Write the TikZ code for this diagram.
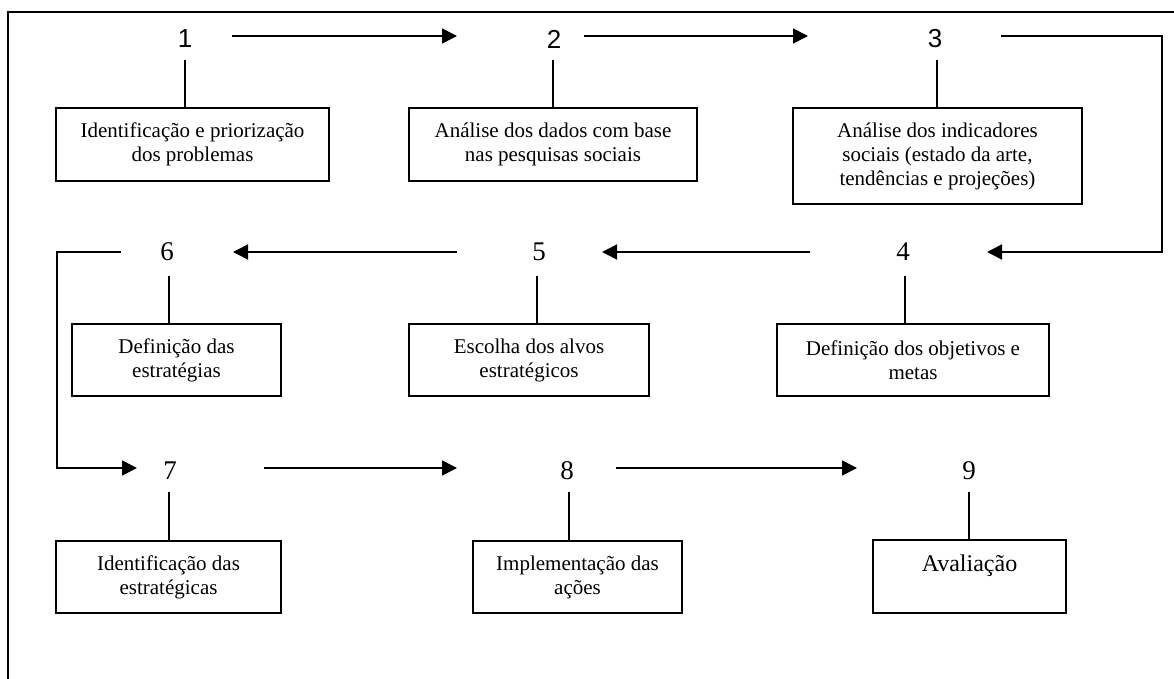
\documentclass[tikz,border=0pt]{standalone}
\usepackage{fontspec}
\setmainfont{Liberation Serif}
\newfontfamily\arialf{Liberation Sans}
\usetikzlibrary{arrows.meta}
\tikzset{
  ln/.style={line width=1.6pt, black},
  arr/.style={ln, -{Triangle[length=15pt,width=15pt]}},
  numsans/.style={inner sep=0pt, font=\arialf\fontsize{26}{30}\selectfont},
  numser/.style={inner sep=0pt, font=\fontsize{27}{31}\selectfont},
  box/.style={draw, line width=1.6pt, inner sep=0pt, align=center,
    font=\fontsize{21}{24}\selectfont, minimum height=73pt},
}
\begin{document}
\begin{tikzpicture}[x=1pt,y=-1pt]
\useasboundingbox (0,0) rectangle (1174,679);
% frame
\draw[ln] (1174,12) -- (8,12) -- (8,679);
% numbers
\node[numsans] (n1) at (185,39) {1};
\node[numsans] (n2) at (554,39) {2};
\node[numsans] (n3) at (935,39) {3};
\node[numser] (n4) at (903,252) {4};
\node[numser] (n5) at (539,252) {5};
\node[numser] (n6) at (167,252) {6};
\node[numser] (n7) at (170,471) {7};
\node[numser] (n8) at (567,471) {8};
\node[numser] (n9) at (969,471) {9};
% boxes
\node[box, minimum width=273pt] (b1) at (192.5,144.5) {Identificação e priorização\\dos problemas};
\node[box, minimum width=288pt] (b2) at (553,144.5) {Análise dos dados com base\\nas pesquisas sociais};
\node[box, minimum width=289pt, minimum height=96pt] (b3) at (937.5,156) {Análise dos indicadores\\sociais (estado da arte,\\tendências e projeções)};
\node[box, minimum width=272pt, minimum height=72pt] (b4) at (913,360) {Definição dos objetivos e\\metas};
\node[box, minimum width=240pt, minimum height=72pt] (b5) at (529,360) {Escolha dos alvos\\estratégicos};
\node[box, minimum width=209pt, minimum height=72pt] (b6) at (176.5,360) {Definição das\\estratégias};
\node[box, minimum width=225pt, minimum height=72pt] (b7) at (168.5,577) {Identificação das\\estratégicas};
\node[box, minimum width=209pt, minimum height=72pt] (b8) at (577.5,577) {Implementação das\\ações};
\node[box, minimum width=193pt, font=\fontsize{24}{27}\selectfont] (b9) at (969.5,576.5) {Avaliação\\\mbox{}};
% stems
\draw[ln] (185,60) -- (185,60 |- b1.north);
\draw[ln] (553,60) -- (553,60 |- b2.north);
\draw[ln] (937,60) -- (937,60 |- b3.north);
\draw[ln] (905,276) -- (905,276 |- b4.north);
\draw[ln] (537,276) -- (537,276 |- b5.north);
\draw[ln] (169,276) -- (169,276 |- b6.north);
\draw[ln] (169,492) -- (169,492 |- b7.north);
\draw[ln] (569,492) -- (569,492 |- b8.north);
\draw[ln] (969,492) -- (969,492 |- b9.north);
% arrows row 1
\draw[arr] ([yshift=3pt]n1.center) ++(47,0) -- ([yshift=3pt,xshift=-97pt]n2.center);
\draw[arr] ([yshift=3pt]n2.center) ++(30,0) -- ([yshift=3pt,xshift=-127pt]n3.center);
\draw[arr] ([yshift=3pt]n3.center) ++(66,0) -- (1162,36) |- ([xshift=84pt]n4.center);
% row 2
\draw[arr] ([xshift=-93pt]n4.center) -- ([xshift=63pt]n5.center);
\draw[arr] ([xshift=-82pt]n5.center) -- ([xshift=66pt]n6.center);
\draw[arr] ([xshift=-46pt]n6.center) -- (57,252) |- ([xshift=-33pt,yshift=3pt]n7.center);
% row 3
\draw[arr] ([yshift=3pt]n7.center) ++(94,0) -- ([yshift=3pt,xshift=-110pt]n8.center);
\draw[arr] ([yshift=3pt]n8.center) ++(49,0) -- ([yshift=3pt,xshift=-112pt]n9.center);
\end{tikzpicture}
\end{document}
